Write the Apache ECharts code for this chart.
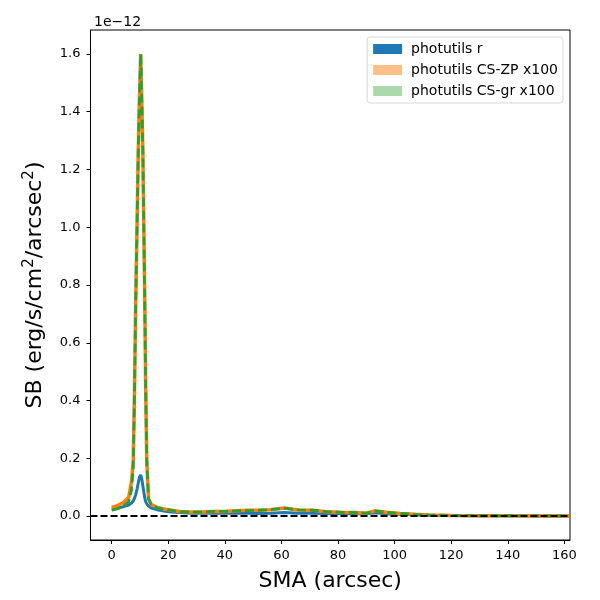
<!DOCTYPE html>
<html>
<head>
<meta charset="utf-8">
<script src="https://cdn.jsdelivr.net/npm/echarts@6/dist/echarts.min.js"></script>
<style>
  html, body { margin: 0; padding: 0; background: #fff; }
  #chart { width: 600px; height: 600px; }
</style>
</head>
<body>
<div id="chart"></div>
<script>
// SMA samples (arcsec) and surface brightness in units of 1e-12 erg/s/cm2/arcsec2
const sma = [0, 2, 4, 6, 7, 7.6, 8, 8.5, 9, 9.4, 9.8, 10.25, 10.6, 11, 11.4, 11.7, 12, 12.4, 13, 14,
  16, 18, 20, 24, 28, 32, 36, 40, 44, 48, 52, 56, 61, 66, 71, 76, 81, 86, 90, 93,
  97, 102, 107, 112, 120, 130, 140, 150, 162];
const sbR = [0.025, 0.027, 0.032, 0.038, 0.045, 0.052, 0.060, 0.075, 0.095, 0.115, 0.135, 0.142, 0.130, 0.105, 0.080, 0.062, 0.050, 0.042, 0.035, 0.028,
  0.022, 0.018, 0.015, 0.012, 0.010, 0.010, 0.010, 0.010, 0.010, 0.010, 0.009, 0.010, 0.012, 0.010, 0.010, 0.009, 0.009, 0.008, 0.008, 0.011,
  0.008, 0.006, 0.004, 0.003, 0.002, 0.001, 0.001, 0.0005, 0.0005];
const sbZP = [0.030, 0.036, 0.046, 0.065, 0.12, 0.19, 0.40, 0.75, 1.03, 1.27, 1.45, 1.60, 1.45, 1.27, 0.96, 0.73, 0.45, 0.19, 0.06, 0.040,
  0.030, 0.025, 0.022, 0.016, 0.014, 0.014, 0.016, 0.016, 0.018, 0.020, 0.020, 0.022, 0.028, 0.021, 0.020, 0.015, 0.013, 0.012, 0.010, 0.018,
  0.013, 0.009, 0.006, 0.004, 0.002, 0.001, 0.001, 0.0005, 0.0005];
const sbGR = [0.020, 0.025, 0.033, 0.050, 0.09, 0.17, 0.39, 0.75, 1.03, 1.27, 1.45, 1.60, 1.45, 1.27, 0.96, 0.73, 0.45, 0.19, 0.06, 0.038,
  0.029, 0.024, 0.021, 0.015, 0.013, 0.014, 0.016, 0.016, 0.018, 0.019, 0.020, 0.022, 0.027, 0.021, 0.020, 0.015, 0.013, 0.012, 0.010, 0.017,
  0.013, 0.009, 0.006, 0.004, 0.002, 0.001, 0.001, 0.0005, 0.0005];
const xTicks = [0, 20, 40, 60, 80, 100, 120, 140, 160];
const yTicks = [0, 0.2, 0.4, 0.6, 0.8, 1.0, 1.2, 1.4, 1.6];

function pairs(ys) {
  return sma.map(function (x, i) { return [x, ys[i]]; });
}

const font = 'DejaVu Sans';
let chart = echarts.init(document.getElementById('chart'));
chart.setOption({
  animation: false,
  backgroundColor: '#fff',
  textStyle: { fontFamily: font },
  title: {
    text: '1e\u221212',
    left: 89, top: 10,
    textStyle: { fontFamily: font, fontSize: 14, fontWeight: 'normal', color: '#000' }
  },
  grid: {
    left: 90.5, top: 30, right: 30, bottom: 60,
    show: true, borderColor: '#000', borderWidth: 1
  },
  legend: {
    orient: 'vertical',
    right: 37, top: 37,
    padding: [5, 5, 5, 6],
    itemGap: 7,
    itemWidth: 29, itemHeight: 10,
    backgroundColor: '#fff',
    borderColor: '#d8d8d8', borderWidth: 1, borderRadius: 3,
    textStyle: { fontFamily: font, fontSize: 14, color: '#000', padding: [0, 0, 0, 4] },
    data: [
      { name: 'photutils r', icon: 'rect', itemStyle: { color: '#1f77b4' } },
      { name: 'photutils CS-ZP x100', icon: 'rect', itemStyle: { color: '#ffbf86' } },
      { name: 'photutils CS-gr x100', icon: 'rect', itemStyle: { color: '#abd9ab' } }
    ]
  },
  xAxis: {
    type: 'value',
    min: -7.5, max: 162,
    name: 'SMA (arcsec)',
    nameLocation: 'middle',
    nameGap: 30,
    nameTextStyle: { fontFamily: font, fontSize: 22, color: '#000' },
    axisLine: { onZero: false, lineStyle: { color: '#000' } },
    axisTick: { show: true, length: 4, customValues: xTicks, lineStyle: { color: '#000' } },
    axisLabel: { customValues: xTicks, color: '#000', fontSize: 13, fontFamily: font, margin: 9 },
    splitLine: { show: false }
  },
  yAxis: {
    type: 'value',
    min: -0.083, max: 1.683,
    name: '{n|SB (erg/s/cm}{s|2}{n|/arcsec}{s|2}{n|)}',
    nameLocation: 'middle',
    nameGap: 44,
    nameTextStyle: {
      fontFamily: font, fontSize: 22, color: '#000',
      rich: {
        n: { fontFamily: font, fontSize: 22, color: '#000', lineHeight: 25, verticalAlign: 'bottom' },
        s: { fontFamily: font, fontSize: 15, color: '#000', lineHeight: 25, verticalAlign: 'top' }
      }
    },
    axisLine: { show: true, onZero: false, lineStyle: { color: '#000' } },
    axisTick: { show: true, length: 4, customValues: yTicks, lineStyle: { color: '#000' } },
    axisLabel: {
      customValues: yTicks, color: '#000', fontSize: 13, fontFamily: font, margin: 10,
      formatter: function (v) { return v.toFixed(1); }
    },
    splitLine: { show: false }
  },
  series: [
    {
      name: 'photutils r',
      type: 'line',
      data: pairs(sbR),
      showSymbol: false,
      lineStyle: { color: '#1f77b4', width: 3 },
      itemStyle: { color: '#1f77b4' },
      z: 2,
      markLine: {
        silent: true,
        symbol: 'none',
        label: { show: false },
        lineStyle: { color: '#000', type: [7, 3], width: 2 },
        data: [{ yAxis: 0 }]
      }
    },
    {
      name: 'photutils CS-ZP x100',
      type: 'line',
      data: pairs(sbZP),
      showSymbol: false,
      lineStyle: { color: '#ff7f0e', width: 3.5 },
      itemStyle: { color: '#ffbf86' },
      z: 3
    },
    {
      name: 'photutils CS-gr x100',
      type: 'line',
      data: pairs(sbGR),
      showSymbol: false,
      lineStyle: { color: '#2ca02c', width: 2.8, type: [9, 4] },
      itemStyle: { color: '#abd9ab' },
      z: 4
    }
  ]
});
</script>
</body>
</html>
